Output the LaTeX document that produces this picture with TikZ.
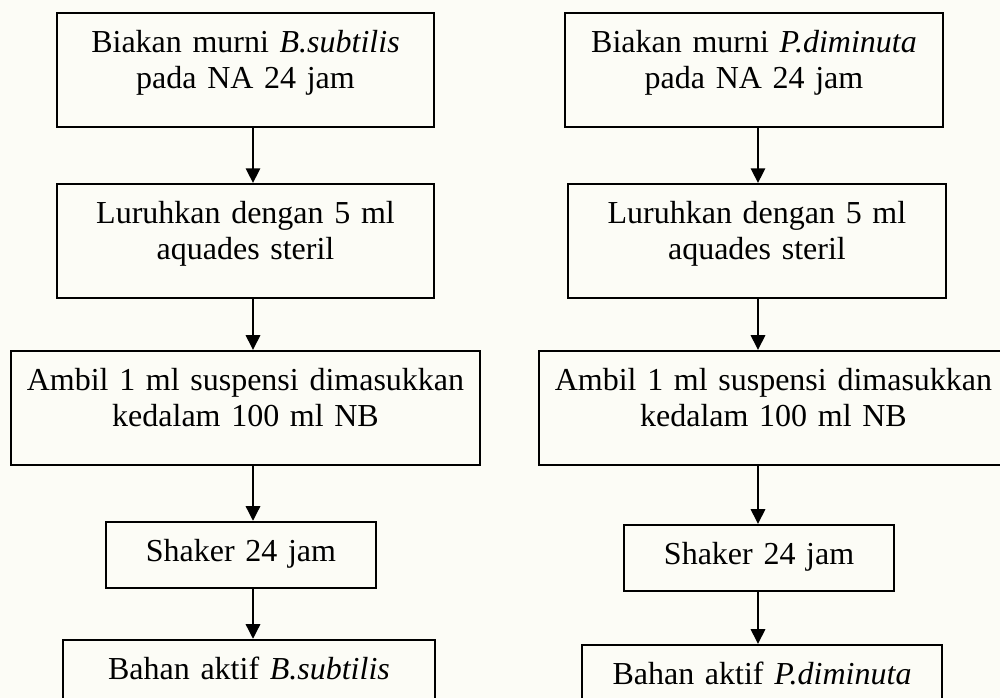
\documentclass[tikz,border=0pt]{standalone}
\usepackage{fontspec}
\setmainfont{Liberation Serif}
\usetikzlibrary{arrows.meta, positioning}

\definecolor{paper}{RGB}{252,252,246}

\begin{document}
\begin{tikzpicture}[
    x=0.375pt, y=-0.375pt,
    font=\fontsize{12}{13.5}\selectfont,
    box/.style={rectangle, draw, line width=0.75pt, align=center, inner xsep=0pt, inner ysep=0pt, text height=15pt, text depth=27.75pt},
    smallbox/.style={box, text depth=9.75pt},
    arrow/.style={-{Triangle[length=5.5pt, width=5.4pt]}, line width=0.75pt}
]

% Page
\fill[paper] (0,0) rectangle (1000,698);
\useasboundingbox (0,0) rectangle (1000,698);

% Arrow columns
\coordinate (lcol) at (253,0);
\coordinate (rcol) at (758,0);

% Left column (B.subtilis)
\node (bs_culture) at (245.5,70) [box, text width=141.4pt] {Biakan murni \textit{B.subtilis}\\pada NA 24 jam};
\node (bs_rinse) [box, text width=141.4pt, below=20.6pt of bs_culture] {Luruhkan dengan 5 ml\\aquades steril};
\node (bs_inoc) [box, text width=175.9pt, below=19.1pt of bs_rinse] {Ambil 1 ml suspensi dimasukkan\\kedalam 100 ml NB};
\node (bs_shake) [smallbox, text width=101.25pt, below=20.6pt of bs_inoc, xshift=-1.7pt] {Shaker 24 jam};
\node (bs_active) [smallbox, text width=139.5pt, below=18.75pt of bs_shake, xshift=3pt] {Bahan aktif \textit{B.subtilis}};

% Right column (P.diminuta)
\node (pd_culture) at (754,70) [box, text width=141.75pt] {Biakan murni \textit{P.diminuta}\\pada NA 24 jam};
\node (pd_rinse) [box, text width=141.75pt, below=20.6pt of pd_culture, xshift=1.1pt] {Luruhkan dengan 5 ml\\aquades steril};
\node (pd_inoc) [box, text width=175.9pt, below=19.1pt of pd_rinse, xshift=6.2pt] {Ambil 1 ml suspensi dimasukkan\\kedalam 100 ml NB};
\node (pd_shake) [smallbox, text width=101.25pt, below=21.75pt of pd_inoc, xshift=-5.4pt] {Shaker 24 jam};
\node (pd_active) [smallbox, text width=135pt, below=19.5pt of pd_shake, xshift=1.1pt] {Bahan aktif \textit{P.diminuta}};

% Connections
\draw [arrow] (bs_culture.south -| lcol) -- (bs_rinse.north -| lcol);
\draw [arrow] (bs_rinse.south -| lcol) -- (bs_inoc.north -| lcol);
\draw [arrow] (bs_inoc.south -| lcol) -- (bs_shake.north -| lcol);
\draw [arrow] (bs_shake.south -| lcol) -- (bs_active.north -| lcol);

\draw [arrow] (pd_culture.south -| rcol) -- (pd_rinse.north -| rcol);
\draw [arrow] (pd_rinse.south -| rcol) -- (pd_inoc.north -| rcol);
\draw [arrow] (pd_inoc.south -| rcol) -- (pd_shake.north -| rcol);
\draw [arrow] (pd_shake.south -| rcol) -- (pd_active.north -| rcol);

\end{tikzpicture}
\end{document}
